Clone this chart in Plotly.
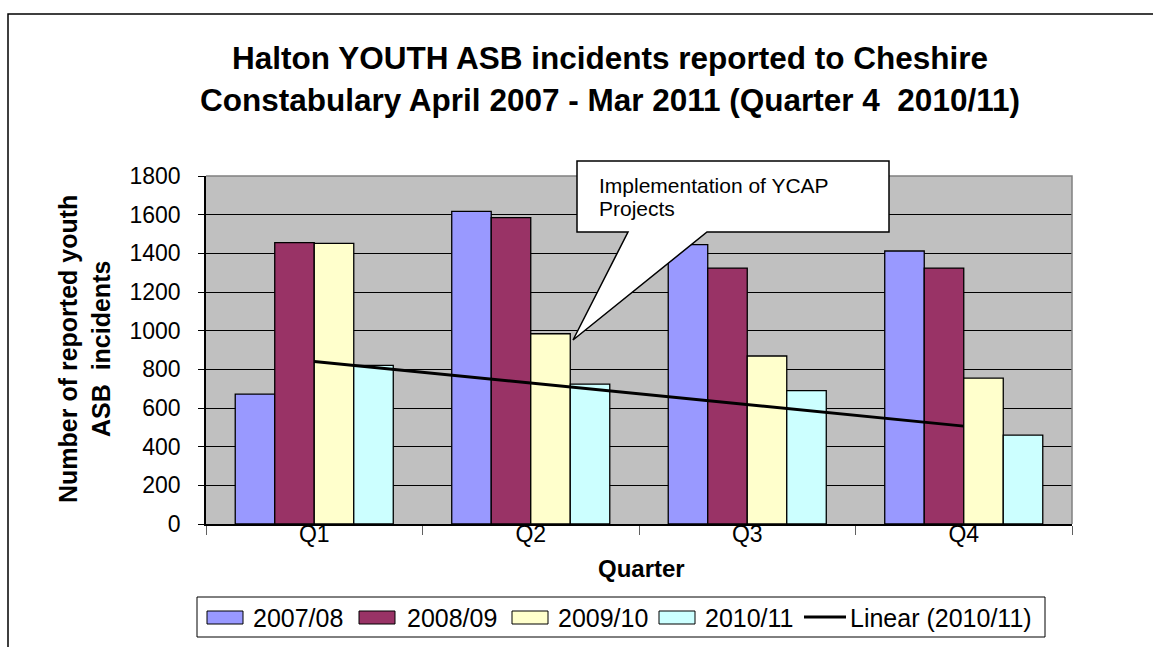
import numpy as np
import plotly.graph_objects as go

quarters = ["Q1", "Q2", "Q3", "Q4"]
series_names = ["2007/08", "2008/09", "2009/10", "2010/11"]
v_2007_08 = [672, 1617, 1445, 1412]
v_2008_09 = [1455, 1585, 1324, 1324]
v_2009_10 = [1452, 984, 869, 755]
v_2010_11 = [820, 723, 690, 460]
trend_name = "Linear (2010/11)"
y_ticks = [0, 200, 400, 600, 800, 1000, 1200, 1400, 1600, 1800]
callout_lines = ["Implementation of YCAP", "Projects"]
title_lines = ["Halton YOUTH ASB incidents reported to Cheshire",
               "Constabulary April 2007 - Mar 2011 (Quarter 4  2010/11)"]
x_title = "Quarter"
y_title = "Number of reported youth<br>ASB  incidents"

colors = ["#9999FF", "#993366", "#FFFFCC", "#CCFFFF"]
FONT = "Liberation Sans, Arial, sans-serif"

W, H = 1153, 647
# plot area in page pixels
L, R, T, B = 206, 1072, 176, 524


def px(x):
    return (x - L) / (R - L)


def py(y):
    return (B - y) / (B - T)


fig = go.Figure()
all_vals = [v_2007_08, v_2008_09, v_2009_10, v_2010_11]
for name, vals, c in zip(series_names, all_vals, colors):
    fig.add_trace(go.Bar(x=quarters, y=vals, name=name,
                         marker=dict(color=c, line=dict(color="black", width=1.3)),
                         showlegend=False))

# Linear trendline of 2010/11 (as in the original chart)
xi = np.arange(1, len(quarters) + 1)
slope, intercept = np.polyfit(xi, v_2010_11, 1)
trend = slope * xi + intercept
fig.add_trace(go.Scatter(x=quarters, y=trend, mode="lines", name=trend_name,
                         line=dict(color="black", width=3), showlegend=False))

shapes = []
annotations = []

# outer chart border
shapes.append(dict(type="rect", xref="paper", yref="paper", x0=px(8), x1=px(1200), y0=py(14), y1=py(700),
                   line=dict(color="black", width=1.5), fillcolor="rgba(0,0,0,0)", layer="above"))
# plot area top/right border (grey)
shapes.append(dict(type="path", xref="paper", yref="paper",
                   path=f"M {px(L)},{py(T)} L {px(R)},{py(T)} L {px(R)},{py(B)}",
                   line=dict(color="#808080", width=1.5), layer="above"))

# callout
pts = [(577, 161), (889, 161), (889, 232), (707, 232), (573, 340), (628, 232), (577, 232)]
path = "M " + " L ".join(f"{px(a)},{py(b)}" for a, b in pts) + " Z"
shapes.append(dict(type="path", xref="paper", yref="paper", path=path, fillcolor="white",
                   line=dict(color="black", width=1.5), layer="above"))
for i, line in enumerate(callout_lines):
    annotations.append(dict(text=line, xref="paper", yref="paper", x=px(597), y=py(185 + 23 * i),
                            xanchor="left", yanchor="middle", align="left", showarrow=False,
                            font=dict(family=FONT, size=21, color="black")))

# titles
for i, line in enumerate(title_lines):
    annotations.append(dict(text="<b>" + line + "</b>", xref="paper", yref="paper", x=px(610), y=py(58 + 42 * i),
                            xanchor="center", yanchor="middle", showarrow=False,
                            font=dict(family=FONT, size=31.5, color="black")))
annotations.append(dict(text="<b>" + x_title + "</b>", xref="paper", yref="paper", x=px(641), y=py(568),
                        xanchor="center", yanchor="middle", showarrow=False,
                        font=dict(family=FONT, size=24, color="black")))
annotations.append(dict(text="<b>" + y_title + "</b>", xref="paper", yref="paper", x=px(84), y=py(349),
                        xanchor="center", yanchor="middle", textangle=-90, showarrow=False,
                        font=dict(family=FONT, size=25, color="black")))

# custom legend
shapes.append(dict(type="rect", xref="paper", yref="paper", x0=px(197), x1=px(1045), y0=py(597), y1=py(637),
                   line=dict(color="black", width=1), fillcolor="white", layer="above"))
sw_x = [207, 359, 512, 659]
tx_x = [251, 405, 556, 703]
for i, name in enumerate(series_names):
    shapes.append(dict(type="rect", xref="paper", yref="paper", x0=px(sw_x[i]), x1=px(sw_x[i] + 36),
                       y0=py(611), y1=py(624), fillcolor=colors[i], line=dict(color="black", width=1),
                       layer="above"))
    annotations.append(dict(text=name, xref="paper", yref="paper", x=px(tx_x[i]), y=py(618), xanchor="left",
                            yanchor="middle", showarrow=False, font=dict(family=FONT, size=25, color="black")))
shapes.append(dict(type="line", xref="paper", yref="paper", x0=px(804), x1=px(846), y0=py(617), y1=py(617),
                   line=dict(color="black", width=3), layer="above"))
annotations.append(dict(text=trend_name, xref="paper", yref="paper", x=px(848), y=py(618), xanchor="left",
                        yanchor="middle", showarrow=False, font=dict(family=FONT, size=25, color="black")))

fig.update_layout(
    width=W, height=H, autosize=False,
    margin=dict(l=L, r=W - R, t=T, b=H - B, pad=0),
    paper_bgcolor="white", plot_bgcolor="#C0C0C0",
    barmode="group", bargap=0.27, bargroupgap=0,
    showlegend=False,
    font=dict(family=FONT, size=22, color="black"),
    shapes=shapes, annotations=annotations,
)
fig.update_xaxes(showline=True, linecolor="black", linewidth=1.5, ticks="outside", tickson="boundaries",
                 ticklen=9, tickcolor="#606060", showgrid=False, tickfont=dict(family=FONT, size=23),
                 ticklabelstandoff=-11)
fig.update_yaxes(range=[0, 1800], tickvals=y_ticks, showline=True, linecolor="black", linewidth=1.5,
                 ticks="outside", ticklen=6, tickcolor="black", showgrid=True, gridcolor="black", gridwidth=1,
                 zeroline=False, tickfont=dict(family=FONT, size=23), ticklabelstandoff=13)

fig.write_html("out.html", config={"displayModeBar": False},
               post_script="document.body.style.margin='0';document.body.style.overflow='hidden';")
